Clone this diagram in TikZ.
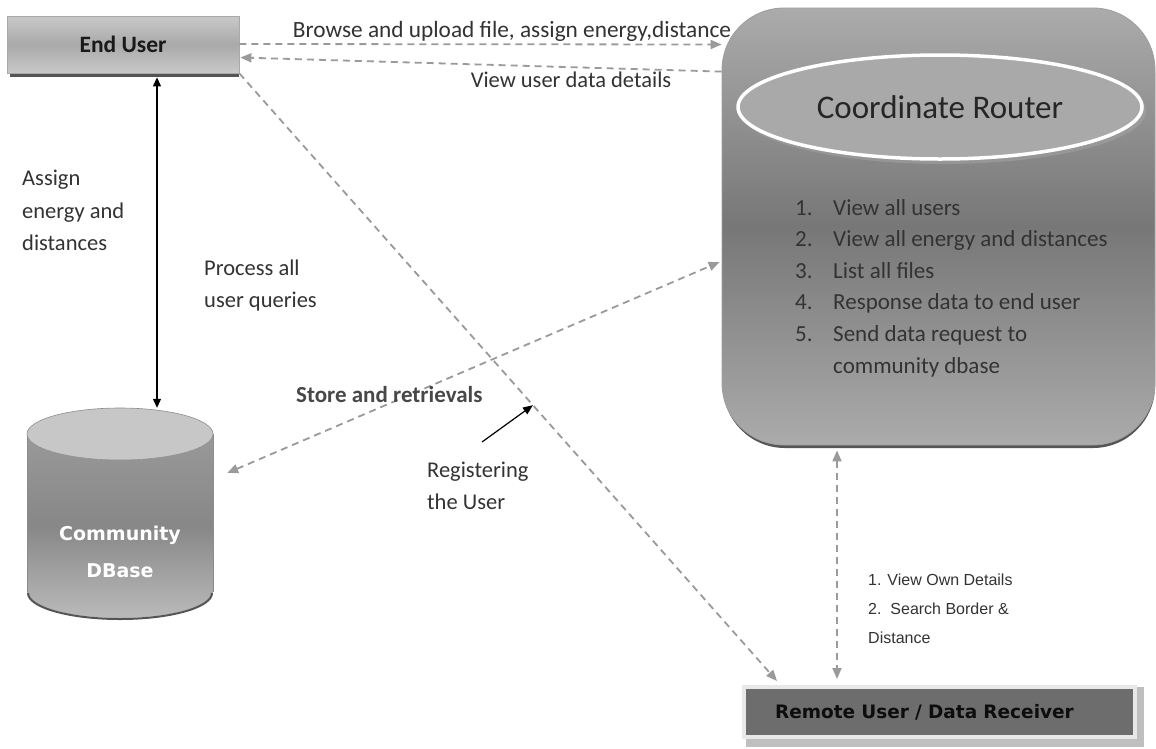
\documentclass[tikz,border=0pt]{standalone}
\usepackage{fontspec}
\setmainfont{Carlito}
\newfontfamily\dvfont{DejaVu Sans}
\newfontfamily\arfont{Liberation Sans}
\usetikzlibrary{arrows.meta,shapes.geometric,calc}
\definecolor{dashgray}{HTML}{9A9A9A}
\definecolor{txt}{HTML}{333333}
\definecolor{boxlight}{HTML}{C9C9C9}
\definecolor{boxmid}{HTML}{A9A9A9}
\definecolor{rtop}{HTML}{ABABAB}
\definecolor{rmid}{HTML}{777777}
\definecolor{rbot}{HTML}{ABABAB}
\definecolor{ellfill}{HTML}{A9A9A9}
\definecolor{remfill}{HTML}{6D6D6D}
\definecolor{remborder}{HTML}{E8E8E8}
\definecolor{shadowc}{HTML}{555555}
\tikzset{
  lbl/.style={font=\fontsize{22.5}{33}\selectfont, text=txt, inner sep=0pt, anchor=base west},
  lstn/.style={font=\fontsize{23}{32}\selectfont, text=txt, inner sep=0pt, anchor=base west},
  small/.style={font=\arfont\fontsize{16}{29}\selectfont, text=txt, inner sep=0pt, anchor=base west},
  dashline/.style={draw=dashgray, line width=1.8pt, dash pattern=on 7pt off 5pt},
  gtip/.style={-{Triangle[length=11pt,width=9pt]}},
  gtips/.style={{Triangle[length=11pt,width=9pt]}-{Triangle[length=11pt,width=9pt]}},
  blacktips/.style={draw=black, line width=1.2pt, {Triangle[length=9pt,width=8pt]}-{Triangle[length=9pt,width=8pt]}},
  blacktip/.style={draw=black, line width=1.2pt, -{Triangle[length=10pt,width=8pt]}},
  eubox/.style={draw=boxmid, line width=0.8pt, top color=boxlight, bottom color=boxlight, middle color=boxmid,
     minimum width=232pt, minimum height=57pt, inner sep=0pt, font=\bfseries\fontsize{23.5}{28}\selectfont, text=black!90},
  routerbox/.style={draw=black!38, line width=0.8pt, rounded corners=62pt, top color=rtop, bottom color=rbot, middle color=rmid,
     minimum width=433pt, minimum height=437pt, inner sep=0pt},
  ellnode/.style={ellipse, draw=white, line width=3.5pt, fill=ellfill, minimum width=404pt, minimum height=104pt,
     inner sep=0pt, font=\fontsize{33}{36}\selectfont, text=black!85},
  rembox/.style={draw=remborder, line width=4pt, fill=remfill, minimum width=391pt, minimum height=50pt,
     text width=329pt, align=left, inner xsep=0pt, inner ysep=0pt,
     font=\dvfont\bfseries\fontsize{18.5}{22}\selectfont, text=black!95},
}
\begin{document}
\begin{tikzpicture}[x=1pt,y=-1pt]
\useasboundingbox (0,0) rectangle (1156,748);
\fill[white] (0,0) rectangle (1156,748);

% ---------- Coordinate Router ----------
\fill[shadowc, rounded corners=62pt] (723,11) rectangle (1155,448);
\node[routerbox] (cr) at (938.5,226.5) {};
\fill[black!30, opacity=0.35] (943,111) ellipse [x radius=203, y radius=53];
\node[ellnode] (crl) at (940,107) {Coordinate Router};

\node[lstn] (n1) at (795,215) {1.};
\node[lstn] (t1) at (833,215) {View all users};
\node[lstn] (n2) at (795,246) {2.};
\node[lstn] (t2) at (833,246) {View all energy and distances};
\node[lstn] (n3) at (795,278) {3.};
\node[lstn] (t3) at (833,278) {List all files};
\node[lstn] (n4) at (795,309) {4.};
\node[lstn] (t4) at (833,309) {Response data to end user};
\node[lstn] (n5) at (795,341) {5.};
\node[lstn] (t5) at (833,341) {Send data request to};
\node[lstn] (t6) at (833,373) {community dbase};

% ---------- End User ----------
\fill[shadowc] (10,72) rectangle (239,76.5);
\node[eubox] (eu) at (123,44.5) {End User};

% ---------- Community DBase ----------
\shade[top color=black!40, bottom color=black!27, middle color=black!47]
  (27,434) -- (27,592) arc [start angle=180, end angle=0, x radius=93, y radius=26] -- (213,434)
  arc [start angle=0, end angle=180, x radius=93, y radius=26] -- cycle;
\draw[shadowc, line width=2pt] (28,593) arc [start angle=180, end angle=0, x radius=92, y radius=26];
\draw[black!45, line width=0.6pt] (27,434) -- (27,592);
\draw[black!45, line width=0.6pt] (213,434) -- (213,592);
\filldraw[fill=black!22, draw=black!45, line width=0.6pt] (120,434) ellipse [x radius=93, y radius=26];
\node[inner sep=0pt, minimum width=186pt, minimum height=210pt] (db) at (120,513) {};
\node[inner sep=0pt, align=center, font=\dvfont\bfseries\fontsize{19}{37}\selectfont, text=white] (dbt) at (120,552) {Community\\DBase};

% ---------- Remote User ----------
\fill[black!25] (746,687) rectangle (1144,747);
\node[rembox] (ru) at (939.5,712) {Remote User / Data Receiver};

% ---------- Connectors ----------
\draw[dashline, gtip] (eu.east |- 0,44) -- (eu.east -| cr.west);
\draw[dashline, gtip] ($(cr.north west)+(0,64)$) -- ($(eu.east)+(1,13)$);
\coordinate (vx) at ($(eu.south)+(34,4)$);
\draw[blacktips] (vx) -- (vx |- db.north);
\draw[dashline, gtips] ($(db.east)+(14,-40)$) -- ($(cr.west)+(-2,35.5)$);
\draw[dashline, gtip] (eu.south east) -- coordinate[pos=0.546] (regpt) ($(ru.north west)+(35,-4)$);
\coordinate (regtail) at (482,442);
\draw[blacktip] (regtail) -- (regpt);
\draw[dashline, gtips] ($(cr.south)+(-101.5,5)$) -- ($(ru.north)+(-102.5,-6)$);

% ---------- Labels ----------
\node[lbl, anchor=base, font=\fontsize{23.3}{33}\selectfont] (lb1) at (512,37) {Browse and upload file, assign energy,distance};
\node[lbl, anchor=base] (lb2) at (571,87) {View user data details};
\node[lbl] (lb3a) at (22,185) {Assign};
\node[lbl] (lb3b) at (22,218) {energy and};
\node[lbl] (lb3c) at (22,250) {distances};
\node[lbl] (lb4a) at (204,275) {Process all};
\node[lbl] (lb4b) at (204,307) {user queries};
\node[lbl, font=\bfseries\fontsize{23}{33}\selectfont, text=black!72] (lb5) at (296,402) {Store and retrievals};
\node[lbl] (lb6a) at (427,477) {Registering};
\node[lbl] (lb6b) at (427,509) {the User};
\node[small] (lb7a) at (868,585) {1. View Own Details};
\node[small] (lb7b) at (868,614) {2.\ \ Search Border \&};
\node[small] (lb7c) at (868,643) {Distance};
\end{tikzpicture}
\end{document}
